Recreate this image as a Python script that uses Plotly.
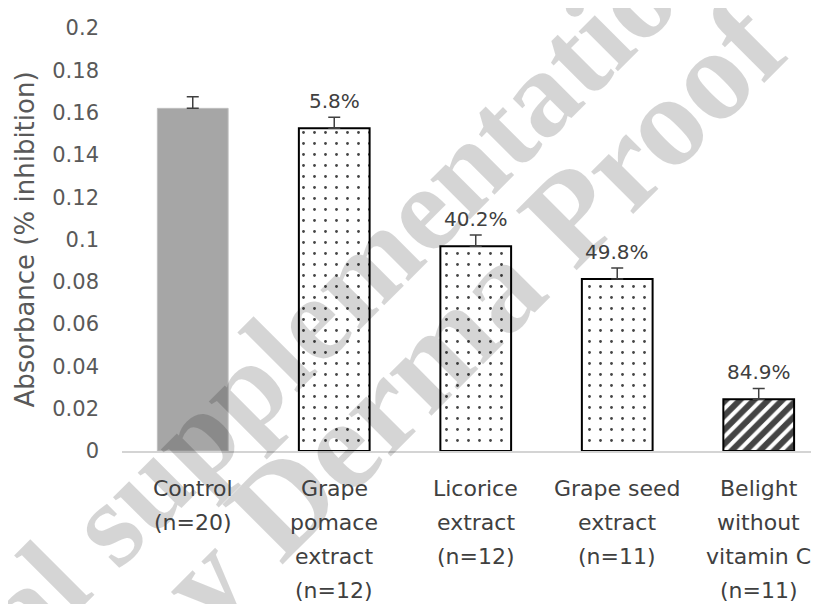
import plotly.graph_objects as go

# ---------------- data ----------------
categories = ["Control", "Grape pomace extract", "Licorice extract",
              "Grape seed extract", "Belight without vitamin C"]
label_lines = [["Control", "(n=20)"],
               ["Grape", "pomace", "extract", "(n=12)"],
               ["Licorice", "extract", "(n=12)"],
               ["Grape seed", "extract", "(n=11)"],
               ["Belight", "without", "vitamin C", "(n=11)"]]
absorbance = [0.162, 0.1526, 0.0968, 0.0813, 0.0245]
error_up = [0.0055, 0.0052, 0.0053, 0.0052, 0.0051]
inhibition = ["", "5.8%", "40.2%", "49.8%", "84.9%"]
y_tickvals = [0, 0.02, 0.04, 0.06, 0.08, 0.1, 0.12, 0.14, 0.16, 0.18, 0.2]
y_ticktext = ["0", "0.02", "0.04", "0.06", "0.08", "0.1", "0.12", "0.14",
              "0.16", "0.18", "0.2"]
watermark_lines = ["al supplementation", "by Derma Proof"]

# ---------------- styles ----------------
fills = ["#a6a6a6", "#ffffff", "#ffffff", "#ffffff", "#ffffff"]
shapes = ["", ".", ".", ".", "/"]
pat_size = [10, 11, 11, 11, 10]
pat_sol = [0.3, 0.05, 0.05, 0.05, 0.6]
pat_fg = ["#000000", "#383838", "#383838", "#383838", "#000000"]
edge_col = ["#bfbfbf", "#000000", "#000000", "#000000", "#000000"]
edge_w = [1, 2, 2, 2, 2]

# page offset of the plot div (browser body margin)
OFF = 8
W, H = 819 - OFF, 604 - OFF
L, R, T, B = 122 - OFF, 0, 28 - OFF, 604 - 451
pw, ph = W - L - R, H - T - B


def px2paper(x, y):
    """page pixel -> paper coordinates"""
    x, y = x - OFF, y - OFF
    return (x - L) / pw, (H - B - y) / ph


fig = go.Figure()
fig.add_trace(go.Bar(
    x=categories, y=absorbance,
    marker=dict(color=fills,
                line=dict(color=edge_col, width=edge_w),
                pattern=dict(shape=shapes, fillmode="overlay",
                             fgcolor=pat_fg, fgopacity=1, size=pat_size,
                             solidity=pat_sol)),
    error_y=dict(type="data", symmetric=False, array=error_up,
                 arrayminus=[0] * len(error_up),
                 color="#404040", thickness=1.5, width=6),
    showlegend=False,
))

annotations = []
# watermark
wm_pos = [(350, 280), (446, 339)]
wm_size = [122, 130]
for txt, (cx, cy), fs in zip(watermark_lines, wm_pos, wm_size):
    px, py = px2paper(cx, cy)
    annotations.append(dict(
        text=txt, xref="paper", yref="paper", x=px, y=py,
        xanchor="center", yanchor="middle", showarrow=False,
        textangle=-45,
        font=dict(family="Liberation Serif", size=fs, weight="bold",
                  color="rgba(0,0,0,0.165)")))

# percent inhibition labels
for c, v, e, t in zip(categories, absorbance, error_up, inhibition):
    if t:
        annotations.append(dict(
            text=t, x=c, y=v + e, xref="x", yref="y",
            xanchor="center", yanchor="bottom", yshift=2, showarrow=False,
            font=dict(family="DejaVu Sans", size=20, color="#404040")))

# category labels (multi-line)
for c, lines in zip(categories, label_lines):
    for i, line in enumerate(lines):
        annotations.append(dict(
            text=line, x=c, y=0, xref="x", yref="paper",
            xanchor="center", yanchor="middle", yshift=-(37 + 34 * i),
            showarrow=False,
            font=dict(family="DejaVu Sans", size=22, color="#404040")))

fig.update_layout(
    width=W, height=H,
    margin=dict(l=L, r=R, t=T, b=B, autoexpand=False),
    paper_bgcolor="white", plot_bgcolor="white",
    bargap=0.5,
    annotations=annotations,
    xaxis=dict(type="category", range=[-0.5, 4.426],
               showticklabels=False, ticks="",
               showline=True, linecolor="#d4d4d4", linewidth=1.5,
               showgrid=False, zeroline=False, fixedrange=True),
    yaxis=dict(range=[0, 0.2], tickvals=y_tickvals, ticktext=y_ticktext,
               tickfont=dict(family="DejaVu Sans", size=21, color="#595959"),
               ticks="", ticklabelstandoff=22,
               showline=False, showgrid=False, zeroline=False,
               title=dict(text="Absorbance (% inhibition)", standoff=10,
                          font=dict(family="DejaVu Sans", size=26,
                                    color="#595959")),
               fixedrange=True),
)

fig.write_html("out.html")
